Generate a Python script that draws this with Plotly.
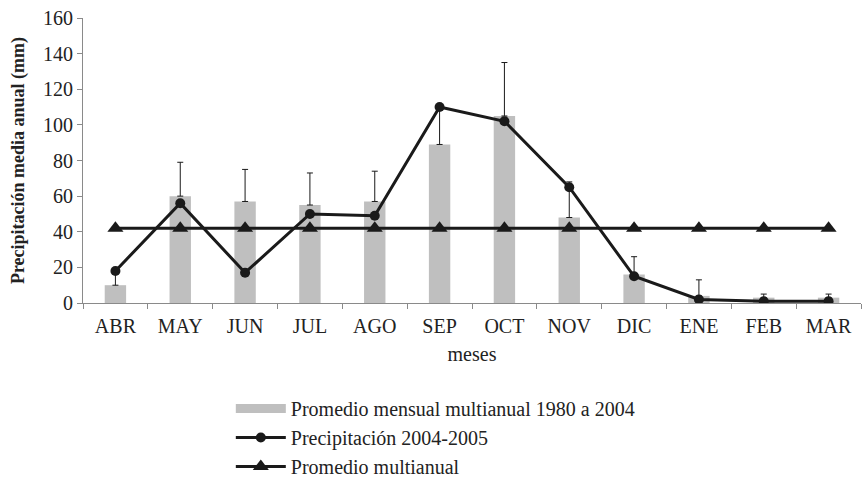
import plotly.graph_objects as go

meses = ["ABR", "MAY", "JUN", "JUL", "AGO", "SEP", "OCT", "NOV", "DIC", "ENE", "FEB", "MAR"]
promedio_mensual = [10, 60, 57, 55, 57, 89, 105, 48, 16, 4, 3, 3]
error_sup = [8, 19, 18, 18, 17, 20, 30, 20, 10, 9, 2, 2]
precip_2004_2005 = [18, 56, 17, 50, 49, 110, 102, 65, 15, 2, 1, 1]
promedio_multianual = [42] * 12
y_ticks = [0, 20, 40, 60, 80, 100, 120, 140, 160]

font_family = "Liberation Serif"
bar_color = "#BFBFBF"
ink = "#1a1a1a"

fig = go.Figure()
fig.add_trace(go.Bar(
    x=meses, y=promedio_mensual, name="Promedio mensual multianual 1980 a 2004",
    marker=dict(color=bar_color, line=dict(width=0)), width=0.33,
    error_y=dict(type="data", array=error_sup, arrayminus=[0] * 12, symmetric=False,
                 color=ink, thickness=1, width=3),
    showlegend=False,
))
# legend-only entry for the bars (wide grey swatch)
fig.add_trace(go.Scatter(
    x=[None], y=[None], name="Promedio mensual multianual 1980 a 2004", mode="lines",
    line=dict(color=bar_color, width=9), legendgroup="a", legendrank=1,
))
fig.add_trace(go.Scatter(
    x=meses, y=promedio_multianual, name="Promedio multianual", mode="lines+markers",
    line=dict(color=ink, width=3), marker=dict(symbol="triangle-up", size=14, color=ink),
    legendgroup="c", legendrank=3,
))
fig.add_trace(go.Scatter(
    x=meses, y=precip_2004_2005, name="Precipitación 2004-2005", mode="lines+markers",
    line=dict(color=ink, width=3), marker=dict(symbol="circle", size=10, color=ink),
    legendgroup="b", legendrank=2,
))

fig.update_layout(
    width=862, height=482,
    margin=dict(l=83, r=1, t=18, b=179, autoexpand=False),
    plot_bgcolor="white", paper_bgcolor="white",
    font=dict(family=font_family, size=20, color="#222222"),
    showlegend=True,
    legend=dict(orientation="v", x=0.19, xanchor="left", yref="container", y=0.193, yanchor="top",
                font=dict(size=20), itemwidth=50, traceorder="grouped", tracegroupgap=0,
                bgcolor="rgba(0,0,0,0)"),
)
fig.update_xaxes(
    range=[-0.5, 11.5], showline=True, linecolor="#8a8a8a", linewidth=1,
    ticks="outside", tickson="boundaries", ticklen=5, tickcolor="#8a8a8a",
    showgrid=False, title=dict(text="meses", font=dict(size=20), standoff=10),
    tickfont=dict(size=20), ticklabelstandoff=5,
)
fig.update_yaxes(
    range=[0, 160], tickvals=y_ticks, showline=True, linecolor="#8a8a8a", linewidth=1,
    ticks="outside", ticklen=5, tickcolor="#8a8a8a", showgrid=False, zeroline=False,
    title=dict(text="<b>Precipitación media anual (mm)</b>", font=dict(size=18), standoff=13),
    tickfont=dict(size=20),
)

fig.write_html("out.html")
